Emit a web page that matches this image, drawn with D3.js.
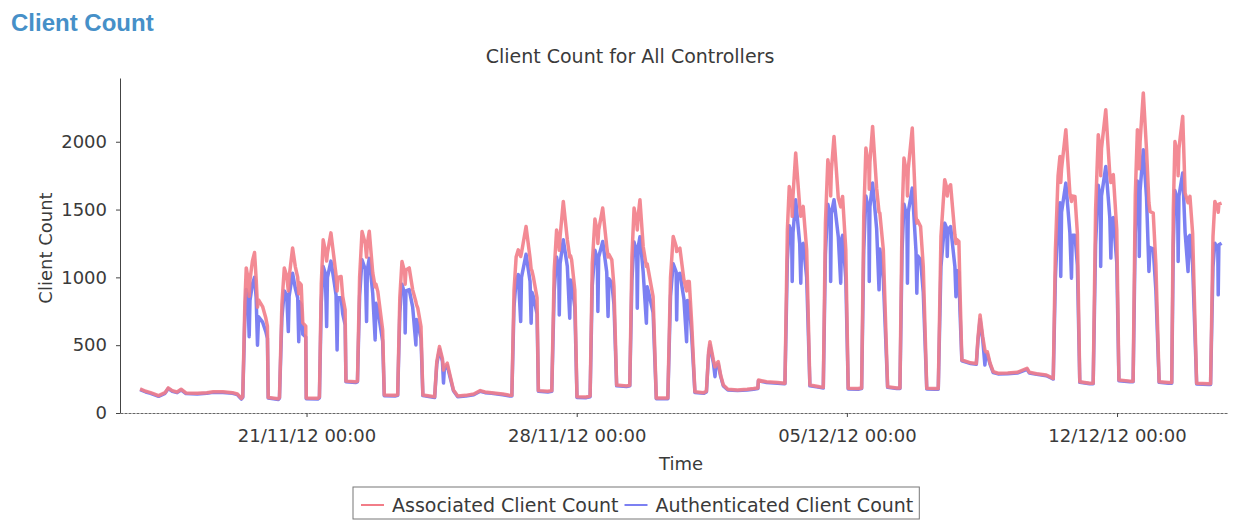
<!DOCTYPE html>
<html lang="en">
<head>
<meta charset="utf-8">
<title>Client Count</title>
<style>
    body {
        margin: 0;
        background: #fff;
    }
    .heading {
        font-family: 'Liberation Sans', Arial, sans-serif;
        font-weight: bold;
        font-size: 24px;
        fill: #4690c8;
    }
    .chartTitle, .axisLabel, .legendText {
        font-family: 'DejaVu Sans', sans-serif;
        fill: #3a3a3a;
    }
    .axis text {
        font-family: 'DejaVu Sans', sans-serif;
        font-size: 18px;
        fill: #3a3a3a;
    }
    .axis path, .axis line {
        stroke: #444;
    }
    .series {
        fill: none;
        stroke-width: 3.5px;
        stroke-linejoin: round;
    }
</style>
</head>
<body>
<script src="https://d3js.org/d3.v7.min.js"></script>
<script>
    // rows: [time, associated, authenticated]
    let week0 = [
        ["16/11 16:30", 177, 172], ["16/11 20:00", 160, 155], ["16/11 23:00", 150, 145],
        ["17/11 04:00", 128, 123], ["17/11 08:00", 150, 145], ["17/11 10:00", 185, 180],
        ["17/11 12:30", 165, 160], ["17/11 15:30", 155, 150], ["17/11 18:00", 175, 170],
        ["17/11 21:00", 148, 143], ["18/11 04:00", 145, 140], ["18/11 10:00", 150, 145],
        ["18/11 14:00", 157, 152], ["18/11 20:00", 157, 152], ["19/11 02:00", 150, 145],
        ["19/11 05:00", 140, 135], ["19/11 07:30", 108, 103]
    ];

    let week1 = [
        ["19/11 08:20", 120, 115], ["19/11 09:40", 820, 720], ["19/11 10:30", 1070, 910],
        ["19/11 11:30", 1000, 860], ["19/11 12:20", 860, 563], ["19/11 12:50", 980, 830],
        ["19/11 14:20", 1120, 950], ["19/11 15:40", 1183, 1000], ["19/11 16:40", 990, 850],
        ["19/11 17:30", 780, 500], ["19/11 18:10", 834, 710], ["19/11 20:40", 785, 670],
        ["19/11 22:40", 700, 600], ["19/11 23:40", 640, 550], ["20/11 00:10", 115, 110],

        ["20/11 06:30", 105, 100], ["20/11 07:10", 115, 110], ["20/11 08:40", 800, 700],
        ["20/11 10:10", 1070, 900], ["20/11 11:40", 1010, 870], ["20/11 12:40", 900, 600],
        ["20/11 13:10", 1000, 860], ["20/11 15:20", 1217, 1030], ["20/11 17:00", 1080, 920],
        ["20/11 18:30", 1000, 850], ["20/11 19:10", 880, 526], ["20/11 19:40", 960, 820],
        ["20/11 20:40", 945, 800], ["20/11 21:40", 664, 580], ["20/11 23:30", 640, 560],
        ["20/11 23:50", 110, 105],

        ["21/11 07:00", 108, 103], ["21/11 08:00", 118, 112], ["21/11 09:10", 950, 820],
        ["21/11 10:20", 1277, 1080], ["21/11 11:40", 1200, 1030], ["21/11 12:30", 1120, 637],
        ["21/11 13:00", 1181, 1000], ["21/11 15:10", 1328, 1120], ["21/11 17:00", 1150, 980],
        ["21/11 18:20", 1018, 870], ["21/11 19:00", 900, 465], ["21/11 19:30", 1000, 850],
        ["21/11 21:30", 1006, 850], ["21/11 22:30", 858, 730], ["22/11 00:00", 760, 650],
        ["22/11 00:30", 235, 230], ["22/11 06:30", 230, 225],

        ["22/11 07:40", 235, 230], ["22/11 09:00", 1000, 860], ["22/11 10:30", 1338, 1130],
        ["22/11 12:30", 1250, 1060], ["22/11 13:20", 1150, 674], ["22/11 13:50", 1250, 1060],
        ["22/11 15:00", 1340, 1140], ["22/11 17:10", 1033, 880], ["22/11 18:40", 930, 539],
        ["22/11 19:10", 950, 810], ["22/11 20:20", 895, 760], ["22/11 23:20", 612, 530],
        ["23/11 00:20", 133, 128],

        ["23/11 07:00", 130, 125], ["23/11 08:40", 135, 130], ["23/11 10:00", 850, 740],
        ["23/11 11:20", 1117, 950], ["23/11 13:00", 1040, 880], ["23/11 13:20", 950, 590],
        ["23/11 13:50", 1055, 900], ["23/11 15:50", 1070, 910], ["23/11 18:00", 908, 780],
        ["23/11 20:00", 820, 502], ["23/11 20:20", 800, 690], ["23/11 21:10", 773, 660],
        ["23/11 23:10", 637, 550], ["24/11 00:20", 133, 128],

        ["24/11 07:40", 120, 115], ["24/11 09:00", 380, 360], ["24/11 10:40", 490, 470],
        ["24/11 12:30", 400, 380], ["24/11 13:10", 317, 221], ["24/11 13:40", 340, 320],
        ["24/11 15:30", 367, 350], ["24/11 17:00", 290, 275], ["24/11 19:20", 170, 165],
        ["24/11 22:00", 125, 120],

        ["25/11 03:00", 130, 125], ["25/11 08:00", 140, 135], ["25/11 12:00", 165, 160],
        ["25/11 15:00", 155, 150], ["25/11 19:00", 150, 145], ["26/11 02:00", 140, 135],
        ["26/11 06:30", 130, 125]
    ];

    let week2 = [
        ["26/11 07:40", 130, 125], ["26/11 09:00", 900, 780], ["26/11 10:20", 1150, 980],
        ["26/11 11:40", 1203, 1020], ["26/11 13:10", 1154, 674], ["26/11 13:40", 1180, 1000],
        ["26/11 16:30", 1375, 1170], ["26/11 19:00", 1142, 970], ["26/11 19:40", 1060, 662],
        ["26/11 20:10", 1050, 890], ["26/11 21:00", 1006, 860], ["26/11 23:20", 850, 730],
        ["27/11 00:10", 165, 160],

        ["27/11 06:00", 160, 155], ["27/11 08:30", 165, 160], ["27/11 10:00", 1050, 900],
        ["27/11 11:30", 1350, 1150], ["27/11 12:50", 1250, 1060], ["27/11 13:10", 1200, 723],
        ["27/11 13:40", 1300, 1100], ["27/11 15:40", 1560, 1277], ["27/11 18:10", 1277, 1080],
        ["27/11 19:40", 1150, 699], ["27/11 20:10", 1160, 980], ["27/11 20:50", 1129, 960],
        ["27/11 22:50", 908, 780], ["28/11 00:10", 120, 115],

        ["28/11 06:00", 118, 113], ["28/11 08:20", 125, 120], ["28/11 09:40", 1100, 940],
        ["28/11 11:20", 1430, 1200], ["28/11 12:50", 1330, 1130], ["28/11 13:10", 1250, 748],
        ["28/11 13:40", 1350, 1150], ["28/11 16:10", 1511, 1264], ["28/11 18:40", 1228, 1040],
        ["28/11 19:30", 1150, 711], ["28/11 20:00", 1170, 990], ["28/11 21:50", 1129, 960],
        ["28/11 23:10", 932, 800], ["29/11 00:50", 207, 200], ["29/11 07:00", 200, 195],

        ["29/11 09:00", 205, 200], ["29/11 10:20", 1150, 980], ["29/11 11:40", 1511, 1260],
        ["29/11 13:20", 1400, 1180], ["29/11 13:40", 1350, 773], ["29/11 14:10", 1450, 1220],
        ["29/11 15:20", 1572, 1300], ["29/11 17:20", 1228, 1040], ["29/11 19:20", 1080, 662],
        ["29/11 19:50", 1100, 930], ["29/11 20:30", 1055, 900], ["29/11 23:30", 858, 740],
        ["30/11 01:30", 110, 105],

        ["30/11 08:40", 110, 105], ["30/11 10:20", 1000, 860], ["30/11 12:00", 1301, 1100],
        ["30/11 13:50", 1230, 1040], ["30/11 14:10", 1190, 686], ["30/11 14:40", 1200, 1020],
        ["30/11 16:10", 1215, 1030], ["30/11 18:40", 981, 840], ["30/11 20:20", 900, 526],
        ["30/11 20:50", 970, 830], ["30/11 22:00", 969, 820], ["30/11 23:30", 662, 570],
        ["01/12 01:30", 157, 152],

        ["01/12 07:00", 150, 145], ["01/12 08:40", 160, 155], ["01/12 10:00", 450, 430],
        ["01/12 10:50", 526, 500], ["01/12 13:00", 390, 370], ["01/12 14:00", 340, 268],
        ["01/12 14:30", 360, 345], ["01/12 16:00", 379, 360], ["01/12 17:30", 280, 270],
        ["01/12 19:10", 207, 200], ["01/12 22:00", 175, 170],

        ["02/12 04:00", 170, 165], ["02/12 10:00", 175, 170], ["02/12 14:00", 180, 175],
        ["02/12 16:40", 185, 180], ["02/12 17:00", 243, 238], ["02/12 22:00", 230, 225],
        ["03/12 05:00", 225, 220], ["03/12 09:00", 220, 215]
    ];

    let week3 = [
        ["03/12 09:30", 220, 215], ["03/12 11:00", 1350, 1130], ["03/12 12:10", 1670, 1380],
        ["03/12 13:40", 1580, 1320], ["03/12 14:00", 1450, 969], ["03/12 14:30", 1600, 1330],
        ["03/12 16:10", 1917, 1572], ["03/12 18:40", 1523, 1250], ["03/12 19:20", 1450, 957],
        ["03/12 19:50", 1500, 1240], ["03/12 20:50", 1523, 1250], ["03/12 23:00", 1203, 1000],
        ["04/12 01:00", 207, 200], ["04/12 07:00", 194, 189],

        ["04/12 09:20", 190, 185], ["04/12 10:40", 1400, 1170], ["04/12 12:10", 1867, 1540],
        ["04/12 13:40", 1750, 1450], ["04/12 13:55", 1600, 969], ["04/12 14:20", 1780, 1470],
        ["04/12 16:00", 2039, 1572], ["04/12 18:40", 1585, 1300], ["04/12 20:10", 1520, 957],
        ["04/12 20:40", 1560, 1280], ["04/12 21:20", 1597, 1310], ["04/12 23:20", 1203, 990],
        ["05/12 00:50", 182, 177], ["05/12 07:00", 180, 175],

        ["05/12 09:10", 185, 180], ["05/12 10:30", 1450, 1200], ["05/12 11:50", 1953, 1600],
        ["05/12 13:40", 1800, 1480], ["05/12 13:55", 1650, 969], ["05/12 14:20", 1850, 1520],
        ["05/12 16:00", 2113, 1695], ["05/12 18:30", 1658, 1360], ["05/12 20:00", 1480, 908],
        ["05/12 20:30", 1474, 1210], ["05/12 22:40", 1203, 990], ["06/12 01:20", 194, 189],
        ["06/12 07:00", 185, 180],

        ["06/12 09:00", 185, 180], ["06/12 10:20", 1450, 1200], ["06/12 11:30", 1880, 1540],
        ["06/12 13:20", 1750, 1440], ["06/12 13:40", 1600, 957], ["06/12 14:10", 1800, 1480],
        ["06/12 16:40", 2101, 1658], ["06/12 19:00", 1450, 1190], ["06/12 19:30", 1400, 883],
        ["06/12 20:00", 1420, 1160], ["06/12 21:50", 1375, 1130], ["06/12 23:30", 1080, 890],
        ["07/12 01:40", 182, 177], ["07/12 07:00", 180, 175],

        ["07/12 08:50", 180, 175], ["07/12 10:30", 1300, 1080], ["07/12 12:50", 1720, 1400],
        ["07/12 14:10", 1658, 1360], ["07/12 14:25", 1600, 1154], ["07/12 14:50", 1650, 1350],
        ["07/12 16:30", 1683, 1375], ["07/12 19:10", 1314, 1080], ["07/12 19:50", 1250, 858],
        ["07/12 20:20", 1280, 1050], ["07/12 21:40", 1264, 1040], ["07/12 22:20", 908, 750],
        ["07/12 23:30", 391, 385], ["08/12 05:00", 370, 365], ["08/12 08:30", 365, 360],

        ["08/12 09:30", 550, 530], ["08/12 10:50", 723, 690], ["08/12 12:30", 560, 540],
        ["08/12 13:50", 465, 354], ["08/12 14:20", 450, 430], ["08/12 15:20", 452, 435],
        ["08/12 17:00", 370, 360], ["08/12 19:00", 305, 298], ["08/12 22:00", 293, 288],

        ["09/12 04:00", 295, 290], ["09/12 10:00", 300, 295], ["09/12 16:00", 330, 322],
        ["09/12 17:30", 300, 295], ["09/12 22:00", 290, 285], ["10/12 04:00", 280, 275],
        ["10/12 07:00", 263, 258], ["10/12 08:10", 255, 250]
    ];

    let week4 = [
        ["10/12 08:20", 255, 250], ["10/12 09:40", 1200, 1000], ["10/12 11:20", 1750, 1430],
        ["10/12 12:30", 1892, 1550], ["10/12 13:00", 1700, 1006], ["10/12 13:30", 1800, 1480],
        ["10/12 16:10", 2089, 1695], ["10/12 18:40", 1621, 1330], ["10/12 19:40", 1560, 994],
        ["10/12 20:10", 1600, 1310], ["10/12 21:50", 1597, 1310], ["10/12 23:20", 1326, 1090],
        ["11/12 00:50", 231, 226], ["11/12 07:00", 220, 215],

        ["11/12 09:10", 220, 215], ["11/12 10:40", 1500, 1240], ["11/12 12:20", 2052, 1680],
        ["11/12 13:40", 1900, 1560], ["11/12 13:50", 1750, 1080], ["11/12 14:20", 1950, 1600],
        ["11/12 17:00", 2236, 1818], ["11/12 19:30", 1757, 1440], ["11/12 20:10", 1700, 1142],
        ["11/12 20:40", 1750, 1430], ["11/12 21:40", 1757, 1440], ["11/12 23:50", 1350, 1110],
        ["12/12 01:10", 243, 238], ["12/12 08:00", 235, 230],

        ["12/12 10:00", 235, 230], ["12/12 11:20", 1600, 1320], ["12/12 12:40", 2089, 1710],
        ["12/12 13:40", 1950, 1600], ["12/12 13:50", 1800, 1154], ["12/12 14:20", 2000, 1640],
        ["12/12 16:20", 2360, 1941], ["12/12 18:20", 1941, 1590], ["12/12 19:50", 1550, 1043],
        ["12/12 20:30", 1486, 1220], ["12/12 22:30", 1474, 1210], ["13/12 00:10", 1092, 900],
        ["13/12 02:10", 231, 226], ["13/12 08:00", 225, 220],

        ["13/12 10:00", 225, 220], ["13/12 11:00", 1500, 1240], ["13/12 12:00", 2002, 1640],
        ["13/12 13:40", 1900, 1560], ["13/12 14:00", 1750, 1117], ["13/12 14:30", 1950, 1600],
        ["13/12 16:50", 2187, 1769], ["13/12 18:20", 1621, 1330], ["13/12 20:10", 1550, 1043],
        ["13/12 20:40", 1580, 1300], ["13/12 21:20", 1597, 1310], ["13/12 23:00", 1326, 1090],
        ["14/12 01:30", 219, 214], ["14/12 09:00", 215, 210],

        ["14/12 10:10", 215, 210], ["14/12 11:40", 1300, 1080], ["14/12 12:50", 1560, 1252],
        ["14/12 14:40", 1500, 1200], ["14/12 14:55", 1480, 871], ["14/12 15:20", 1540, 1240],
        ["14/12 17:00", 1547, 1252]
    ];

    let seriesNames = ["Associated Client Count", "Authenticated Client Count"];
    let seriesColors = ["#f27d88", "#7c80f2"];
    let xTicks = ["21/11 00:00", "28/11 00:00", "05/12 00:00", "12/12 00:00"];
    let yTicks = [0, 500, 1000, 1500, 2000];
    let xExtent = ["16/11 04:00", "14/12 21:00"];

    let width = 1236,
        height = 520,
        plot = {left: 120, right: 1228, top: 78, bottom: 413};

    let parseTime = d3.timeParse("%d/%m/%y %H:%M");
    function toDate(s) { return parseTime(s.slice(0, 5) + "/12" + s.slice(5)); }

    let rows = week0.concat(week1, week2, week3, week4).map(function(r) {
        return {t: toDate(r[0]), assoc: r[1], auth: r[2]};
    });

    let svg = d3.select("body").append("svg")
        .attr("width", width)
        .attr("height", height);

    svg.append("text")
        .attr("class", "heading")
        .attr("x", 11)
        .attr("y", 31)
        .text("Client Count");

    svg.append("text")
        .attr("class", "chartTitle")
        .attr("x", 630)
        .attr("y", 63)
        .attr("text-anchor", "middle")
        .style("font-size", "19px")
        .text("Client Count for All Controllers");

    let x = d3.scaleTime()
        .domain(xExtent.map(toDate))
        .range([plot.left, plot.right]);

    let y = d3.scaleLinear()
        .domain([0, 2470])
        .range([plot.bottom, plot.top]);

    let xAxis = svg.append("g")
        .attr("class", "axis")
        .attr("transform", "translate(0," + plot.bottom + ")")
        .call(d3.axisBottom(x)
            .tickValues(xTicks.map(toDate))
            .tickFormat(d3.timeFormat("%d/%m/%y %H:%M"))
            .tickSize(4)
            .tickSizeOuter(0)
            .tickPadding(12));
    xAxis.select(".domain").style("stroke", "#666").style("stroke-dasharray", "3,1");

    svg.append("g")
        .attr("class", "axis")
        .attr("transform", "translate(" + plot.left + ",0)")
        .call(d3.axisLeft(y)
            .tickValues(yTicks)
            .tickFormat(d3.format("d"))
            .tickSize(4)
            .tickSizeOuter(0)
            .tickPadding(9));

    svg.append("text")
        .attr("class", "axisLabel")
        .attr("x", 681)
        .attr("y", 470)
        .attr("text-anchor", "middle")
        .style("font-size", "18px")
        .text("Time");

    svg.append("text")
        .attr("class", "axisLabel")
        .attr("transform", "translate(52,248) rotate(-90)")
        .attr("text-anchor", "middle")
        .style("font-size", "18px")
        .text("Client Count");

    // authenticated underneath, associated on top
    let lineAuth = d3.line().x(function(d) { return x(d.t); }).y(function(d) { return y(d.auth); });
    let lineAssoc = d3.line().x(function(d) { return x(d.t); }).y(function(d) { return y(d.assoc); });

    svg.append("path")
        .datum(rows)
        .attr("class", "series")
        .attr("d", lineAuth)
        .style("stroke", seriesColors[1]);

    svg.append("path")
        .datum(rows)
        .attr("class", "series")
        .attr("d", lineAssoc)
        .style("stroke", seriesColors[0])
        .style("opacity", 0.9);

    // legend
    let legend = svg.append("g");
    let box = legend.append("rect")
        .attr("x", 353)
        .attr("y", 487)
        .attr("height", 32)
        .style("fill", "none")
        .style("stroke", "#777");

    let cursor = 361;
    seriesNames.forEach(function(name, i) {
        legend.append("line")
            .attr("x1", cursor).attr("x2", cursor + 23)
            .attr("y1", 505).attr("y2", 505)
            .style("stroke", seriesColors[i])
            .style("stroke-width", 2);
        let t = legend.append("text")
            .attr("class", "legendText")
            .attr("x", cursor + 31)
            .attr("y", 512)
            .style("font-size", "19px")
            .text(name);
        cursor += 31 + t.node().getComputedTextLength() + 6;
    });
    box.attr("width", cursor - 353);
</script>
</body>
</html>
